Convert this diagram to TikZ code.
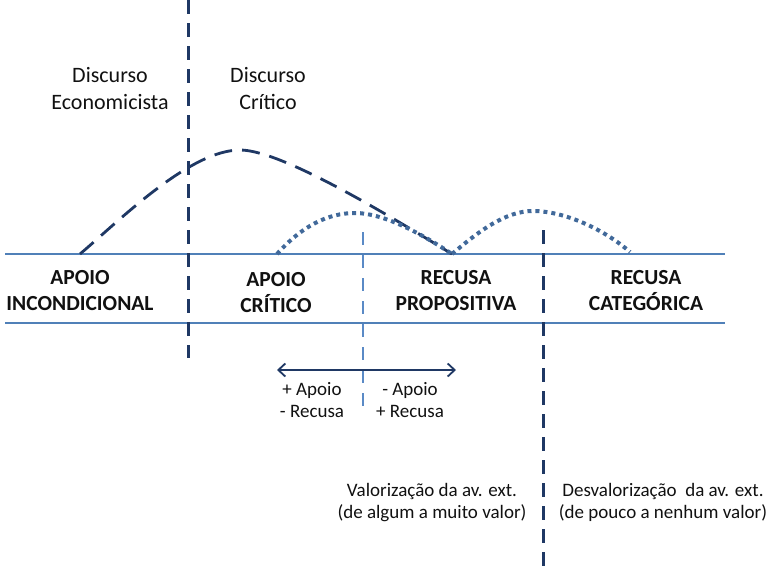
\documentclass[tikz,border=0pt]{standalone}
\usepackage{fontspec}
\setmainfont{Carlito}
\usetikzlibrary{arrows.meta}
\definecolor{navy}{HTML}{1F3864}
\definecolor{axis}{HTML}{5080B8}
\definecolor{dotc}{HTML}{41699A}
\definecolor{lightdash}{HTML}{5A8AC6}
\definecolor{txt}{HTML}{111111}
\tikzset{
  hline/.style={draw=axis, line width=1.6pt},
  vdash/.style={draw=navy, line width=3pt, dash pattern=on 14pt off 9pt},
  vlight/.style={draw=lightdash, line width=2pt, dash pattern=on 13pt off 10pt},
  bigcurve/.style={draw=navy, line width=2.8pt, dash pattern=on 18pt off 10pt},
  dotcurve/.style={draw=dotc, line width=4pt, dash pattern=on 4pt off 4pt},
  dblarrow/.style={draw=navy, line width=1.8pt, {Straight Barb[length=7pt,width=13pt]}-{Straight Barb[length=7pt,width=13pt]}},
  discurso/.style={font=\fontsize{22}{27}\selectfont, text=txt, align=center, anchor=base, inner sep=0pt},
  catlabel/.style={font=\fontsize{21.5}{25.5}\selectfont\bfseries, text=txt, align=center, anchor=base, inner sep=0pt},
  small/.style={font=\fontsize{19}{22}\selectfont, text=txt, align=center, anchor=base, inner sep=0pt},
}
\begin{document}
\begin{tikzpicture}[x=1pt, y=-1pt]
\useasboundingbox (0,0) rectangle (784,574);

% horizontal lines
\coordinate (h1l) at (5,254); \coordinate (h1r) at (725,254);
\coordinate (h2l) at (5,323); \coordinate (h2r) at (725,323);
\draw[hline] (h1l) -- (h1r);
\draw[hline] (h2l) -- (h2r);

% vertical dashed lines
\coordinate (v1t) at (188,0); \coordinate (v1b) at (188,358);
\coordinate (v2t) at (543,230); \coordinate (v2b) at (543,574);
\coordinate (v3t) at (363,232); \coordinate (v3b) at (363,415);
\draw[vdash] (v1t) -- (v1b);
\draw[vdash] (v2t) -- (v2b);
\draw[vlight] (v3t) -- (v3b);

% curves
\coordinate (cA) at (80,254);
\coordinate (cP) at (240,150);
\coordinate (cB) at (452,254);
\draw[bigcurve] (cA) .. controls (120,220) and (190,150) .. (cP)
                     .. controls (280,150) and (380,210) .. (cB);

\coordinate (d1s) at (277,254);
\coordinate (d1p) at (355,213);
\coordinate (d2p) at (533,211);
\coordinate (d2e) at (630,252);
\draw[dotcurve] (d1s) .. controls (302,226) and (328,213) .. (d1p)
                      .. controls (385,213) and (425,236) .. (cB);
\draw[dotcurve] (cB) .. controls (478,232) and (505,211) .. (d2p)
                     .. controls (565,211) and (605,230) .. (d2e);

% arrow
\coordinate (arL) at (277,370); \coordinate (arR) at (456,370);
\draw[dblarrow] (arL) -- (arR);

% texts (base anchor = baseline of last line)
\node[discurso] (discE) at (110,109) {Discurso\\Economicista};
\node[discurso] (discC) at (268,109) {Discurso\\Crítico};

\node[catlabel] (apoioI) at (80,310) {APOIO\\INCONDICIONAL};
\node[catlabel] (apoioC) at (276,312) {APOIO\\CRÍTICO};
\node[catlabel] (recP) at (456,310) {RECUSA\\PROPOSITIVA};
\node[catlabel] (recC) at (646,310) {RECUSA\\CATEGÓRICA};

\node[small] (maisApoio) at (312,417) {+ Apoio\\- Recusa};
\node[small] (menosApoio) at (410,417) {- Apoio\\+ Recusa};

\node[small] (valor) at (432,518) {Valorização da av. ext.\\(de algum a muito valor)};
\node[small] (desvalor) at (663,518) {Desvalorização\ \ da av. ext.\\(de pouco a nenhum valor)};
\end{tikzpicture}
\end{document}
